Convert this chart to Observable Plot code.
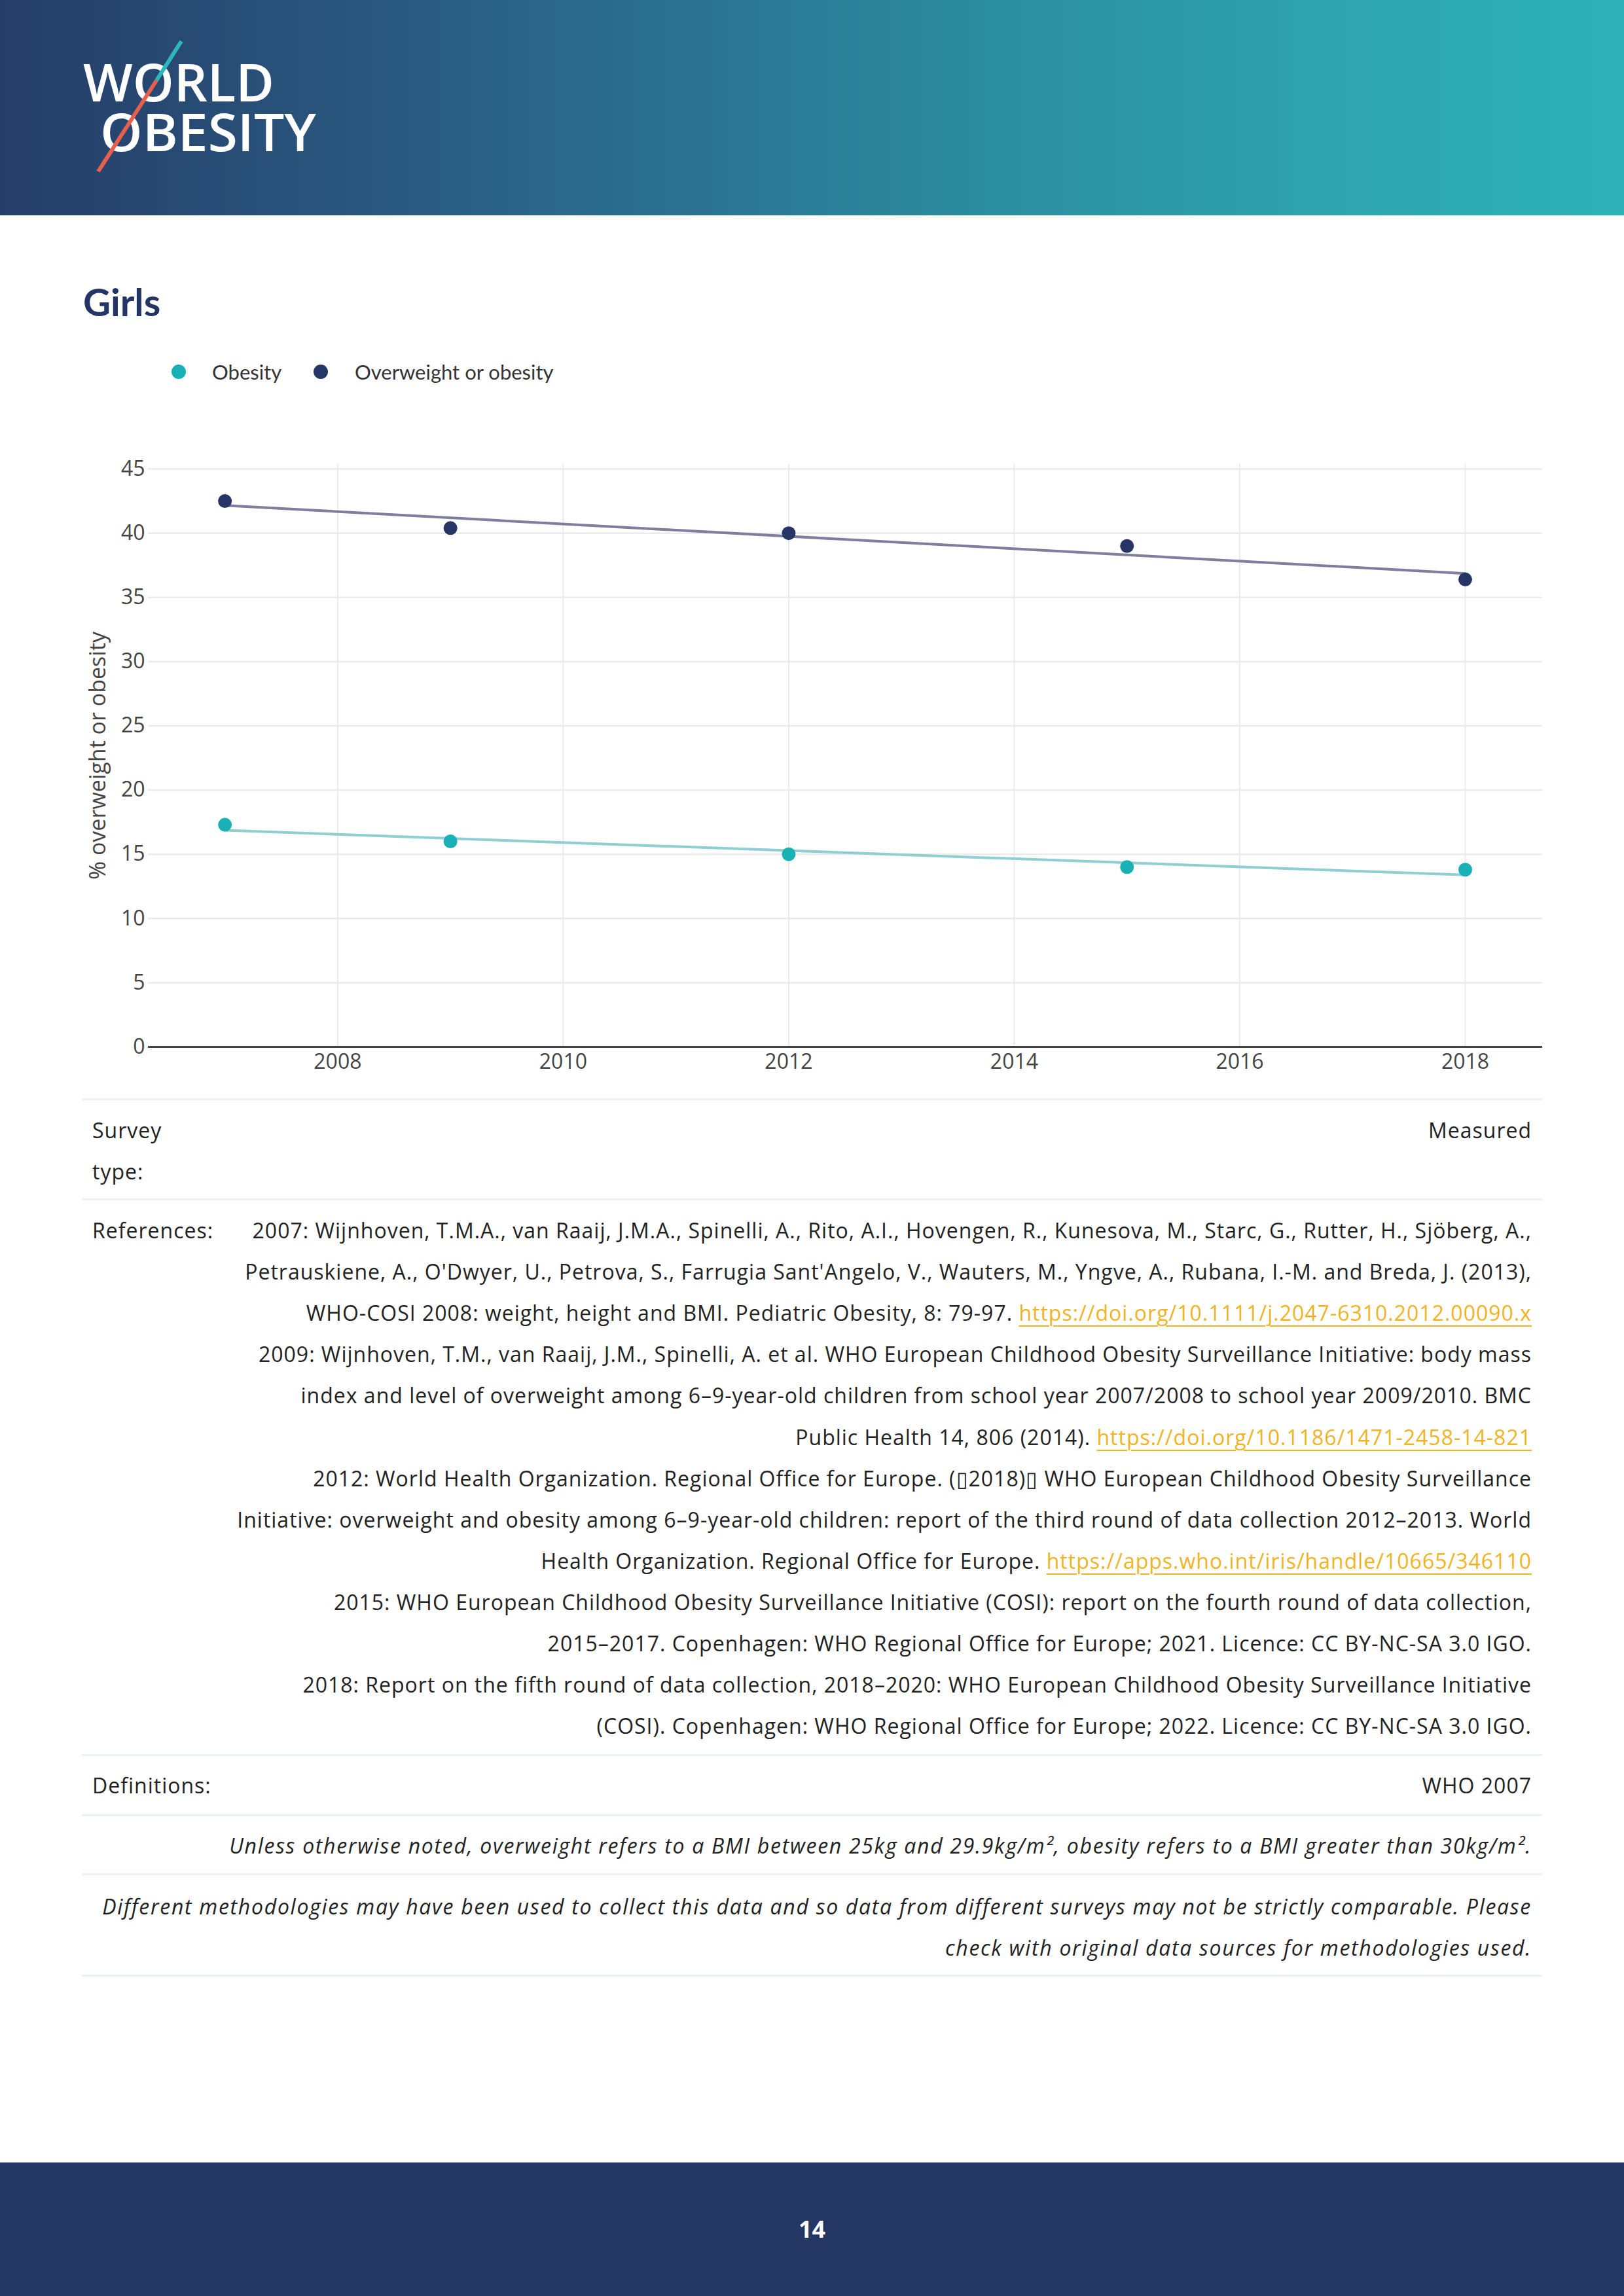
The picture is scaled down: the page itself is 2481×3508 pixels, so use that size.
<!DOCTYPE html>
<html>
<head>
<meta charset="utf-8">
<script src="https://cdn.jsdelivr.net/npm/d3@7"></script>
<script src="https://cdn.jsdelivr.net/npm/@observablehq/plot@0.6"></script>
<style>
  html, body { margin: 0; padding: 0; background: #ffffff; }
  .page { position: relative; width: 2481px; height: 3508px; overflow: hidden; background: #ffffff; font-family: "Open Sans", Lato, sans-serif; color: #222; }
  .header { position: absolute; left: 0; top: 0; width: 2481px; height: 329px;
    background: linear-gradient(90deg, #253d69 0%, #2a5a80 25%, #2b7693 45%, #2b8c9f 60%, #2ea2ad 80%, #2db2b7 100%); }
  .abs { position: absolute; white-space: nowrap; }
  .title { left: 127px; top: 432px; font-family: Lato, sans-serif; font-size: 58px; line-height: 57px; font-weight: 700; color: #243465; }
  .leg-dot { position: absolute; width: 22px; height: 22px; border-radius: 50%; }
  .leg-txt { position: absolute; font-family: Lato, sans-serif; font-size: 31px; line-height: 40px; color: #333; white-space: nowrap; }
  .rule { position: absolute; left: 125px; width: 2231px; height: 3px; background: #edf0f4; }
  .lbl { position: absolute; left: 141px; font-size: 32px; letter-spacing: 1px; line-height: 40px; white-space: nowrap; color: #222; }
  .val { position: absolute; right: 141px; font-size: 32px; letter-spacing: 1px; line-height: 40px; white-space: nowrap; text-align: right; color: #222; }
  .it { font-style: italic; letter-spacing: 1.7px; }
  a { color: #f0b323; text-decoration: underline; text-decoration-thickness: 2px; text-underline-offset: 7px; }
  .footer { position: absolute; left: 0; top: 3304px; width: 2481px; height: 204px; background: #253764; }
  .pageno { position: absolute; left: 0; width: 2481px; top: 3386px; text-align: center; font-size: 36px; line-height: 40px; font-weight: 700; color: #ffffff; }
  #chart { position: absolute; left: 100px; top: 650px; width: 2300px; }
</style>
</head>
<body>
<div class="page">
  <div class="header"></div>
  <svg class="abs" style="left:0;top:0" width="600" height="329">
    <text fill="#ffffff" font-family="'Open Sans', sans-serif" font-weight="600" font-size="80"><tspan x="127" y="155" textLength="292" lengthAdjust="spacingAndGlyphs">WORLD</tspan><tspan x="153" y="231" textLength="330" lengthAdjust="spacingAndGlyphs">OBESITY</tspan></text>
    <line x1="277" y1="63" x2="239" y2="123" stroke="#2bb7bd" stroke-width="6"/>
    <line x1="239" y1="123" x2="150" y2="262" stroke="#e8604c" stroke-width="6"/>
  </svg>

  <div class="abs title">Girls</div>

  <div class="leg-dot" style="left:262px;top:557px;background:#19b1b6"></div>
  <div class="leg-txt" style="left:324px;top:548px">Obesity</div>
  <div class="leg-dot" style="left:479px;top:557px;background:#253566"></div>
  <div class="leg-txt" style="left:542px;top:548px">Overweight or obesity</div>

  <div id="chart"></div>

  <div class="rule" style="top:1678px"></div>
  <div class="lbl" style="top:1707px">Survey</div>
  <div class="lbl" style="top:1770px">type:</div>
  <div class="val" style="top:1707px">Measured</div>

  <div class="rule" style="top:1831px"></div>
  <div class="lbl" style="top:1860px">References:</div>
  <div class="val" style="top:1860px">2007: Wijnhoven, T.M.A., van Raaij, J.M.A., Spinelli, A., Rito, A.I., Hovengen, R., Kunesova, M., Starc, G., Rutter, H., Sjöberg, A.,</div>
  <div class="val" style="top:1923px">Petrauskiene, A., O'Dwyer, U., Petrova, S., Farrugia Sant'Angelo, V., Wauters, M., Yngve, A., Rubana, I.-M. and Breda, J. (2013),</div>
  <div class="val" style="top:1986px">WHO-COSI 2008: weight, height and BMI. Pediatric Obesity, 8: 79-97. <a>https://doi.org/10.1111/j.2047-6310.2012.00090.x</a></div>
  <div class="val" style="top:2049px">2009: Wijnhoven, T.M., van Raaij, J.M., Spinelli, A. et al. WHO European Childhood Obesity Surveillance Initiative: body mass</div>
  <div class="val" style="top:2112px">index and level of overweight among 6–9-year-old children from school year 2007/2008 to school year 2009/2010. BMC</div>
  <div class="val" style="top:2176px">Public Health 14, 806 (2014). <a>https://doi.org/10.1186/1471-2458-14-821</a></div>
  <div class="val" style="top:2239px">2012: World Health Organization. Regional Office for Europe. (▯2018)▯ WHO European Childhood Obesity Surveillance</div>
  <div class="val" style="top:2302px">Initiative: overweight and obesity among 6–9-year-old children: report of the third round of data collection 2012–2013. World</div>
  <div class="val" style="top:2365px">Health Organization. Regional Office for Europe. <a>https://apps.who.int/iris/handle/10665/346110</a></div>
  <div class="val" style="top:2428px">2015: WHO European Childhood Obesity Surveillance Initiative (COSI): report on the fourth round of data collection,</div>
  <div class="val" style="top:2491px">2015–2017. Copenhagen: WHO Regional Office for Europe; 2021. Licence: CC BY-NC-SA 3.0 IGO.</div>
  <div class="val" style="top:2554px">2018: Report on the fifth round of data collection, 2018–2020: WHO European Childhood Obesity Surveillance Initiative</div>
  <div class="val" style="top:2617px">(COSI). Copenhagen: WHO Regional Office for Europe; 2022. Licence: CC BY-NC-SA 3.0 IGO.</div>

  <div class="rule" style="top:2680px"></div>
  <div class="lbl" style="top:2708px">Definitions:</div>
  <div class="val" style="top:2708px">WHO 2007</div>

  <div class="rule" style="top:2772px"></div>
  <div class="val it" style="top:2800px">Unless otherwise noted, overweight refers to a BMI between 25kg and 29.9kg/m², obesity refers to a BMI greater than 30kg/m².</div>

  <div class="rule" style="top:2862px"></div>
  <div class="val it" style="top:2893px">Different methodologies may have been used to collect this data and so data from different surveys may not be strictly comparable. Please</div>
  <div class="val it" style="top:2956px">check with original data sources for methodologies used.</div>
  <div class="rule" style="top:3017px"></div>

  <div class="footer"></div>
  <div class="pageno">14</div>
</div>

<script>
// ---- Data ----
const years = [2007, 2009, 2012, 2015, 2018];
const obesity = [17.3, 16.0, 15.0, 14.0, 13.8];
const overweightOrObesity = [42.5, 40.4, 40.0, 39.0, 36.4];
const seriesNames = ["Obesity", "Overweight or obesity"];
const xTicks = [2008, 2010, 2012, 2014, 2016, 2018];
const yTicks = [0, 5, 10, 15, 20, 25, 30, 35, 40, 45];
const yLabel = "% overweight or obesity";

const data = years.flatMap((yr, i) => [
  {year: yr, value: obesity[i], series: seriesNames[0]},
  {year: yr, value: overweightOrObesity[i], series: seriesNames[1]}
]);

const chart = Plot.plot({
  width: 2300,
  height: 1009,
  marginLeft: 126,
  marginRight: 44,
  marginTop: 59,
  marginBottom: 60,
  style: {fontFamily: "'Open Sans', Lato, sans-serif", fontSize: "32px", color: "#444", background: "transparent", overflow: "visible"},
  x: {domain: [2006.32, 2018.685]},
  y: {domain: [0, 45.36]},
  color: {domain: seriesNames, range: ["#19b1b6", "#253566"]},
  marks: [
    Plot.gridY(yTicks, {stroke: "#ebebeb", strokeWidth: 2.5, strokeOpacity: 1}),
    Plot.gridX(xTicks, {stroke: "#ebebeb", strokeWidth: 2, strokeOpacity: 1}),
    Plot.ruleY([0], {stroke: "#444", strokeWidth: 3}),
    Plot.axisX(xTicks, {tickSize: 0, tickPadding: 11, tickFormat: d => String(d), fill: "#444", label: null}),
    Plot.axisY(yTicks, {tickSize: 0, tickPadding: 5, fill: "#444", label: null}),
    Plot.text([yLabel], {frameAnchor: "left", rotate: -90, dx: -76, fontSize: 34, fill: "#444", textAnchor: "middle"}),
    Plot.linearRegressionY(data, {filter: d => d.series === seriesNames[0], x: "year", y: "value", stroke: "#8fcfd1", strokeWidth: 4, ci: 0}),
    Plot.linearRegressionY(data, {filter: d => d.series === seriesNames[1], x: "year", y: "value", stroke: "#7e7e9d", strokeWidth: 4, ci: 0}),
    Plot.dot(data, {x: "year", y: "value", fill: "series", r: 10.5})
  ]
});
document.getElementById("chart").appendChild(chart);
</script>
</body>
</html>
